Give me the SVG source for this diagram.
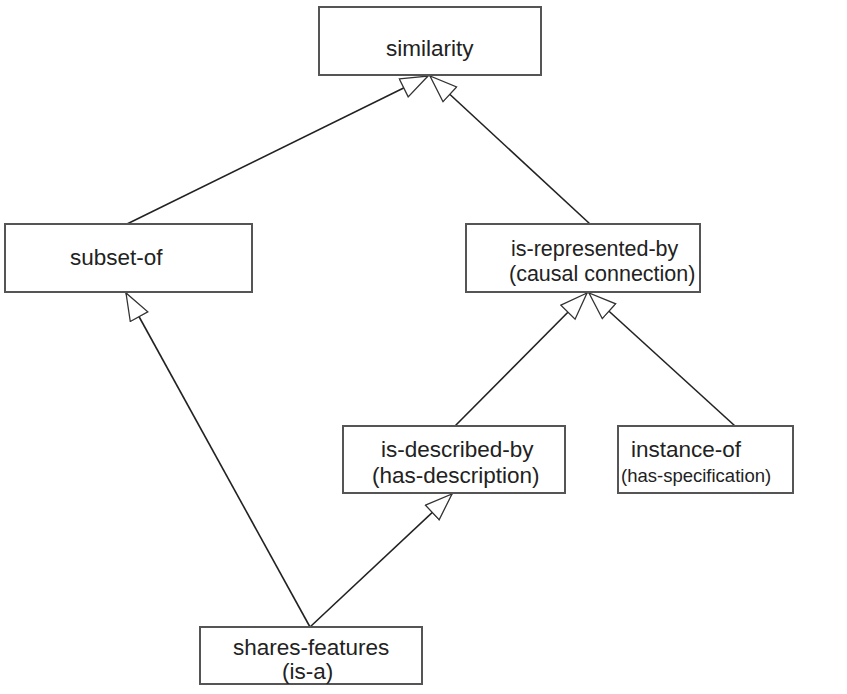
<svg xmlns="http://www.w3.org/2000/svg" width="847" height="694" viewBox="0 0 847 694">
<defs>
<style>
.box{fill:#fff;stroke:#555;stroke-width:2}
.t{font-family:"Liberation Sans",Arial,sans-serif;font-size:22.5px;fill:#222}
.s{font-size:18.5px}
.m{font-size:21.5px}
.c{fill:none;stroke:#222;stroke-width:1.6}
</style>
<marker id="tri" markerUnits="userSpaceOnUse" markerWidth="32" markerHeight="26" refX="28" refY="11" orient="auto">
<path d="M1,1 L28,11 L1,21 Z" fill="#fff" stroke="#333" stroke-width="1.3"/>
</marker>
</defs>
<rect width="847" height="694" fill="#fff"/>
<g id="connectors">
<line class="c" x1="127" y1="224" x2="428" y2="76" marker-end="url(#tri)"/>
<line class="c" x1="590" y1="224" x2="430" y2="76" marker-end="url(#tri)"/>
<line class="c" x1="455" y1="426" x2="587" y2="293" marker-end="url(#tri)"/>
<line class="c" x1="735" y1="426" x2="589" y2="293" marker-end="url(#tri)"/>
<line class="c" x1="310" y1="627" x2="452" y2="494" marker-end="url(#tri)"/>
<line class="c" x1="310" y1="627" x2="126" y2="293" marker-end="url(#tri)"/>
</g>
<g id="similarity">
<rect class="box" x="319" y="7" width="222" height="68"/>
<text class="t" x="386" y="56">similarity</text>
</g>
<g id="subset-of">
<rect class="box" x="5" y="224" width="247" height="68"/>
<text class="t" x="70" y="265">subset-of</text>
</g>
<g id="is-represented-by">
<rect class="box" x="466" y="224" width="234" height="68"/>
<text class="t m" x="511" y="256">is-represented-by</text>
<text class="t m" x="509" y="281">(causal connection)</text>
</g>
<g id="is-described-by">
<rect class="box" x="343" y="426" width="222" height="67"/>
<text class="t" x="381" y="457">is-described-by</text>
<text class="t" x="372" y="483">(has-description)</text>
</g>
<g id="instance-of">
<rect class="box" x="618" y="426" width="175" height="67"/>
<text class="t" x="631" y="457">instance-of</text>
<text class="t s" x="621" y="482">(has-specification)</text>
</g>
<g id="shares-features">
<rect class="box" x="200" y="627" width="222" height="57"/>
<text class="t" x="233" y="655">shares-features</text>
<text class="t" x="282" y="679">(is-a)</text>
</g>
</svg>
